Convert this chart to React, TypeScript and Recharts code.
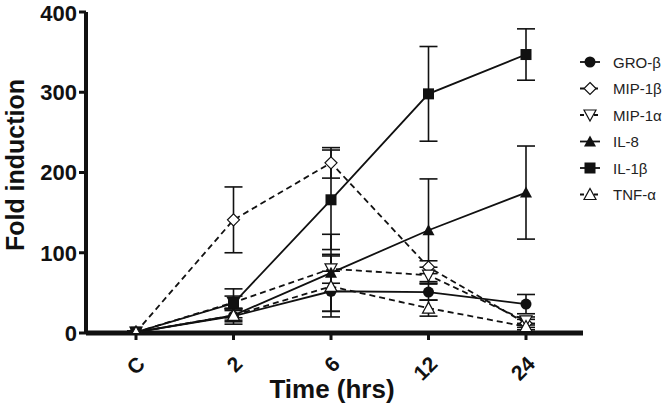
import React from 'react';
import { LineChart, Line, XAxis, YAxis, ErrorBar, Label } from 'recharts';

// Time points and fold-induction values
const timePoints = ['C', '2', '6', '12', '24'];
const yTicks = [0, 100, 200, 300, 400];

const groBeta = [1, 21, 52, 51, 36];
const groBetaErr = [1, 10, 25, 10, 12];
const mip1b = [1, 141, 212, 82, 12];
const mip1bErr = [1, 41, 19, 8, 5];
const mip1a = [1, 38, 80, 72, 15];
const mip1aErr = [1, 8, 18, 10, 5];
const il8 = [1, 22, 75, 128, 175];
const il8Err = [1, 8, 48, 64, 58];
const il1b = [1, 37, 166, 298, 347];
const il1bErr = [1, 18, 62, 59, 32];
const tnfa = [1, 22, 58, 31, 8];
const tnfaErr = [1, 6, 38, 10, 4];

const data = timePoints.map((t, i) => ({
  t,
  gro: groBeta[i], groErr: groBetaErr[i],
  mip1b: mip1b[i], mip1bErr: mip1bErr[i],
  mip1a: mip1a[i], mip1aErr: mip1aErr[i],
  il8: il8[i], il8Err: il8Err[i],
  il1b: il1b[i], il1bErr: il1bErr[i],
  tnfa: tnfa[i], tnfaErr: tnfaErr[i],
}));

const INK = '#111';
const FONT = '"Liberation Sans", Arial, Helvetica, sans-serif';

type Shape = 'circle' | 'diamond' | 'triDown' | 'triUpFilled' | 'square' | 'triUp';

const series: { key: string; name: string; shape: Shape; dashed: boolean }[] = [
  { key: 'gro', name: 'GRO-β', shape: 'circle', dashed: false },
  { key: 'mip1b', name: 'MIP-1β', shape: 'diamond', dashed: true },
  { key: 'mip1a', name: 'MIP-1α', shape: 'triDown', dashed: true },
  { key: 'il8', name: 'IL-8', shape: 'triUpFilled', dashed: false },
  { key: 'il1b', name: 'IL-1β', shape: 'square', dashed: false },
  { key: 'tnfa', name: 'TNF-α', shape: 'triUp', dashed: true },
];

const Marker = ({ cx, cy, shape }: { cx: number; cy: number; shape: Shape }) => {
  if (cx == null || cy == null) return null;
  switch (shape) {
    case 'circle':
      return <circle cx={cx} cy={cy} r={5.5} fill={INK} />;
    case 'diamond':
      return (
        <polygon
          points={`${cx},${cy - 6} ${cx + 6},${cy} ${cx},${cy + 6} ${cx - 6},${cy}`}
          fill="#fff" stroke={INK} strokeWidth={1.2}
        />
      );
    case 'triDown':
      return (
        <polygon
          points={`${cx - 6},${cy - 5} ${cx + 6},${cy - 5} ${cx},${cy + 6}`}
          fill="#fff" stroke={INK} strokeWidth={1.2}
        />
      );
    case 'triUpFilled':
      return <polygon points={`${cx - 6},${cy + 5} ${cx + 6},${cy + 5} ${cx},${cy - 6}`} fill={INK} />;
    case 'square':
      return <rect x={cx - 5.5} y={cy - 5.5} width={11} height={11} fill={INK} />;
    case 'triUp':
      return (
        <polygon
          points={`${cx - 6},${cy + 5} ${cx + 6},${cy + 5} ${cx},${cy - 6}`}
          fill="#fff" stroke={INK} strokeWidth={1.2}
        />
      );
    default:
      return null;
  }
};

const XTick = (props: any) => {
  const { x, y, payload } = props;
  return (
    <text
      x={x + 5}
      y={y + 18}
      transform={`rotate(-45, ${x + 5}, ${y + 18})`}
      textAnchor="end"
      dominantBaseline="central"
      fontFamily={FONT}
      fontWeight="bold"
      fontSize={21}
      fill={INK}
    >
      {payload.value}
    </text>
  );
};

const SeriesLegend = () => (
  <svg width={94} height={170} style={{ position: 'absolute', left: 572, top: 48 }}>
    {series.map((s, i) => {
      const y = 14 + i * 26.5;
      return (
        <g key={s.key}>
          <line x1={8} x2={28} y1={y} y2={y} stroke={INK} strokeWidth={1.8} strokeDasharray={s.dashed ? '4 3' : undefined} />
          <Marker cx={18} cy={y} shape={s.shape} />
          <text x={41} y={y} dominantBaseline="central" fontFamily={FONT} fontSize={15} fill="#222">
            {s.name}
          </text>
        </g>
      );
    })}
  </svg>
);

export default function App() {
  return (
    <div style={{ position: 'absolute', left: 0, top: 0, width: 666, height: 407, background: '#fff' }}>
      <LineChart width={666} height={407} data={data} margin={{ top: 12, right: 83, left: 0, bottom: 0 }}>
        <XAxis
          dataKey="t"
          height={74}
          padding={{ left: 50, right: 57 }}
          axisLine={{ stroke: INK, strokeWidth: 5 }}
          tickLine={{ stroke: INK, strokeWidth: 3 }}
          tickSize={7}
          tick={<XTick />}
          interval={0}
        >
          <Label
            content={() => (
              <text x={332} y={398} textAnchor="middle" fontFamily={FONT} fontWeight="bold" fontSize={26} fill={INK}>
                Time (hrs)
              </text>
            )}
          />
        </XAxis>
        <YAxis
          width={86}
          domain={[0, 400]}
          ticks={yTicks}
          allowDataOverflow
          axisLine={{ stroke: INK, strokeWidth: 4 }}
          tickLine={{ stroke: INK, strokeWidth: 3 }}
          tickSize={7}
          tick={{ fontFamily: FONT, fontWeight: 'bold', fontSize: 22, fill: INK }}
        >
          <Label
            content={() => (
              <text x={24} y={165} transform="rotate(-90, 24, 165)" textAnchor="middle" fontFamily={FONT} fontWeight="bold" fontSize={25} fill={INK}>
                Fold induction
              </text>
            )}
          />
        </YAxis>
        {series.map((s) => (
          <Line
            key={s.key}
            dataKey={s.key}
            name={s.name}
            type="linear"
            stroke={INK}
            strokeWidth={1.8}
            strokeDasharray={s.dashed ? '6 4' : undefined}
            isAnimationActive={false}
            dot={(p: any) => <Marker key={`${s.key}-${p.index}`} cx={p.cx} cy={p.cy} shape={s.shape} />}
            activeDot={false}
          >
            <ErrorBar dataKey={`${s.key}Err`} width={9} stroke={INK} strokeWidth={1.6} direction="y" />
          </Line>
        ))}
      </LineChart>
      <SeriesLegend />
    </div>
  );
}
